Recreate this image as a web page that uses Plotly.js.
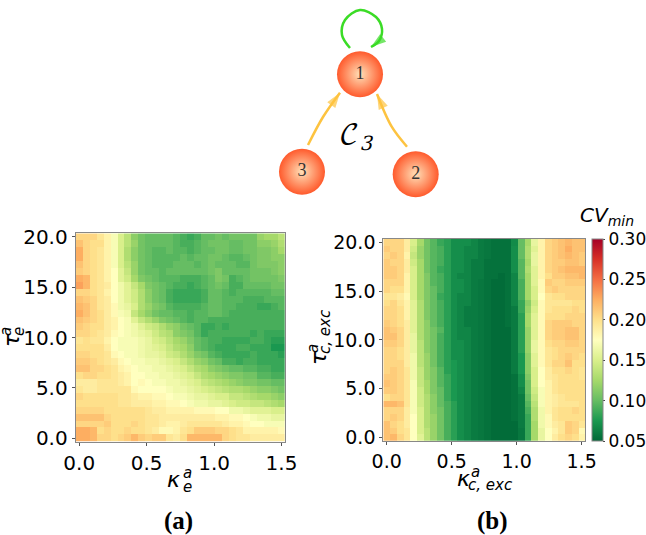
<!DOCTYPE html>
<html>
<head>
<meta charset="utf-8">
<script src="https://cdn.plot.ly/plotly-3.0.1.min.js"></script>
<style>html,body{margin:0;padding:0;background:#fff}</style>
</head>
<body>
<div id="graph" style="width:646px;height:535px"></div>
<script>
// rows go from tau = 20 (top) down to tau = 0, columns from kappa = 0 to 1.5
var cvA = [
[.205,.205,.205,.195,.185,.17,.15,.135,.115,.105,.1,.1,.1,.1,.095,.09,.085,.09,.1,.1,.105,.1,.105,.105,.105,.105,.12,.125,.125,.135],
[.215,.205,.2,.2,.185,.17,.15,.135,.12,.105,.1,.1,.1,.1,.095,.09,.09,.095,.1,.105,.105,.105,.1,.1,.105,.105,.115,.115,.12,.13],
[.225,.205,.2,.195,.185,.17,.15,.13,.115,.105,.1,.095,.095,.1,.095,.095,.09,.095,.1,.1,.105,.105,.1,.1,.105,.105,.11,.11,.115,.125],
[.225,.205,.2,.195,.185,.17,.15,.13,.115,.105,.1,.095,.095,.095,.095,.1,.095,.1,.1,.105,.105,.1,.095,.095,.1,.105,.11,.11,.115,.115],
[.215,.205,.2,.195,.185,.17,.15,.135,.12,.105,.1,.095,.095,.095,.1,.1,.1,.095,.1,.105,.1,.1,.1,.095,.095,.105,.11,.11,.11,.115],
[.21,.205,.2,.195,.185,.175,.155,.14,.12,.105,.1,.1,.095,.1,.1,.1,.1,.1,.1,.105,.11,.1,.1,.1,.1,.105,.105,.105,.11,.115],
[.225,.22,.2,.195,.185,.175,.155,.145,.125,.11,.105,.1,.095,.095,.095,.09,.09,.09,.095,.1,.11,.105,.09,.095,.1,.105,.105,.105,.105,.11],
[.23,.22,.2,.195,.19,.175,.165,.155,.14,.125,.11,.105,.1,.095,.09,.09,.085,.09,.095,.1,.105,.1,.09,.09,.1,.1,.1,.1,.105,.105],
[.205,.205,.2,.195,.185,.175,.165,.155,.145,.13,.115,.105,.1,.09,.085,.085,.085,.085,.09,.1,.1,.095,.09,.095,.095,.095,.095,.095,.1,.1],
[.215,.21,.205,.195,.19,.175,.165,.155,.145,.13,.115,.105,.1,.09,.085,.085,.085,.085,.09,.1,.1,.095,.095,.095,.09,.09,.09,.095,.095,.095],
[.22,.215,.205,.195,.19,.18,.165,.16,.15,.13,.12,.11,.105,.095,.09,.09,.09,.09,.095,.1,.1,.095,.095,.09,.09,.09,.085,.085,.09,.095],
[.225,.215,.205,.2,.19,.18,.17,.165,.14,.125,.115,.105,.1,.1,.095,.095,.09,.095,.095,.1,.1,.095,.09,.09,.09,.09,.09,.09,.09,.09],
[.215,.21,.205,.2,.19,.185,.175,.17,.155,.14,.13,.12,.11,.105,.1,.095,.09,.095,.095,.09,.09,.09,.09,.09,.09,.09,.09,.09,.09,.09],
[.21,.205,.2,.2,.19,.185,.175,.17,.165,.155,.145,.14,.13,.12,.115,.105,.1,.095,.085,.085,.09,.085,.09,.09,.09,.09,.09,.09,.09,.09],
[.205,.205,.2,.195,.19,.18,.175,.17,.165,.16,.155,.145,.135,.13,.115,.11,.105,.095,.085,.09,.09,.09,.09,.09,.09,.085,.09,.085,.085,.085],
[.195,.2,.195,.195,.185,.175,.17,.17,.17,.165,.16,.15,.145,.135,.125,.12,.11,.1,.095,.09,.09,.085,.085,.085,.085,.09,.09,.085,.08,.08],
[.2,.2,.2,.2,.19,.175,.17,.17,.17,.165,.16,.155,.15,.14,.13,.125,.115,.1,.095,.09,.085,.085,.085,.09,.09,.085,.085,.085,.075,.075],
[.205,.205,.2,.2,.195,.18,.175,.17,.17,.165,.16,.16,.155,.145,.14,.13,.12,.11,.105,.095,.09,.085,.085,.085,.085,.09,.085,.085,.085,.08],
[.21,.21,.205,.2,.195,.19,.18,.175,.17,.17,.165,.165,.16,.155,.15,.14,.13,.12,.115,.105,.1,.09,.09,.085,.09,.09,.085,.085,.085,.085],
[.215,.215,.205,.205,.2,.195,.185,.18,.175,.17,.17,.165,.165,.16,.155,.15,.14,.13,.125,.115,.11,.105,.1,.1,.095,.095,.09,.09,.085,.085],
[.2,.205,.205,.2,.2,.195,.19,.185,.175,.175,.17,.17,.165,.165,.16,.155,.15,.14,.13,.125,.12,.115,.11,.11,.105,.105,.095,.095,.09,.09],
[.19,.19,.19,.195,.195,.195,.19,.185,.175,.18,.175,.17,.17,.165,.165,.16,.155,.15,.14,.135,.13,.125,.12,.115,.11,.11,.105,.105,.1,.1],
[.195,.19,.19,.195,.195,.195,.195,.195,.18,.175,.175,.175,.175,.17,.165,.165,.16,.155,.15,.145,.14,.135,.13,.13,.125,.12,.115,.115,.11,.105],
[.205,.2,.2,.2,.2,.2,.195,.195,.19,.185,.185,.18,.18,.175,.17,.17,.165,.16,.16,.155,.15,.15,.14,.14,.135,.13,.125,.125,.12,.115],
[.2,.2,.2,.2,.2,.2,.195,.195,.19,.19,.19,.185,.185,.18,.18,.175,.17,.165,.165,.16,.16,.155,.15,.145,.145,.14,.14,.135,.13,.125],
[.205,.205,.205,.205,.2,.2,.2,.2,.2,.2,.195,.19,.19,.185,.185,.185,.185,.18,.18,.18,.175,.175,.165,.165,.16,.155,.155,.155,.15,.15],
[.215,.215,.215,.215,.205,.2,.2,.2,.2,.2,.195,.195,.19,.19,.19,.19,.19,.19,.19,.19,.185,.185,.18,.18,.175,.17,.165,.165,.16,.16],
[.205,.205,.205,.205,.21,.2,.2,.2,.205,.2,.195,.195,.19,.185,.185,.19,.195,.195,.195,.195,.195,.19,.185,.185,.18,.175,.175,.17,.17,.17],
[.225,.225,.22,.2,.205,.2,.2,.205,.2,.2,.195,.19,.18,.18,.185,.195,.2,.21,.21,.21,.205,.205,.2,.195,.185,.185,.185,.185,.185,.18],
[.225,.225,.22,.205,.205,.2,.205,.21,.22,.21,.205,.21,.21,.195,.19,.2,.22,.22,.22,.22,.22,.205,.2,.195,.195,.19,.19,.19,.19,.19]
];
var cvB = [
[.205,.205,.205,.19,.15,.125,.105,.095,.085,.08,.07,.07,.07,.065,.06,.058,.055,.055,.055,.068,.1,.125,.16,.185,.205,.21,.215,.22,.215,.215],
[.21,.205,.205,.19,.145,.12,.105,.095,.09,.08,.07,.07,.065,.065,.06,.058,.055,.055,.055,.07,.1,.13,.155,.185,.205,.21,.215,.225,.215,.215],
[.205,.21,.205,.185,.14,.12,.105,.095,.09,.08,.07,.07,.065,.065,.06,.058,.055,.055,.055,.07,.1,.13,.16,.185,.205,.21,.215,.22,.215,.21],
[.21,.205,.205,.19,.145,.125,.105,.095,.09,.08,.07,.07,.065,.06,.06,.055,.055,.055,.055,.07,.095,.125,.16,.185,.205,.21,.21,.215,.215,.21],
[.21,.21,.205,.19,.15,.125,.105,.095,.085,.08,.07,.07,.065,.06,.06,.055,.055,.055,.055,.07,.095,.13,.155,.185,.205,.21,.215,.22,.22,.22],
[.21,.21,.205,.185,.15,.125,.11,.095,.09,.08,.07,.065,.065,.06,.06,.055,.055,.052,.055,.065,.095,.125,.155,.185,.2,.21,.21,.215,.215,.22],
[.205,.205,.205,.185,.15,.125,.11,.095,.09,.08,.07,.07,.065,.06,.058,.055,.052,.052,.055,.065,.09,.125,.155,.18,.21,.205,.205,.21,.21,.21],
[.205,.2,.2,.185,.15,.125,.11,.1,.09,.08,.07,.07,.065,.06,.058,.055,.052,.052,.055,.065,.09,.125,.15,.18,.205,.21,.205,.205,.205,.205],
[.195,.195,.19,.18,.15,.125,.11,.1,.085,.08,.07,.065,.065,.06,.058,.055,.052,.052,.055,.065,.09,.125,.15,.175,.195,.2,.2,.205,.205,.205],
[.2,.205,.195,.185,.155,.13,.11,.1,.09,.08,.07,.065,.065,.06,.058,.055,.052,.052,.055,.065,.085,.115,.145,.18,.195,.195,.195,.195,.2,.2],
[.205,.205,.2,.185,.155,.13,.11,.1,.09,.08,.07,.065,.06,.06,.058,.055,.052,.052,.055,.06,.085,.12,.15,.18,.195,.2,.2,.2,.205,.2],
[.205,.205,.2,.185,.155,.13,.11,.1,.09,.08,.07,.065,.06,.06,.058,.055,.052,.052,.055,.06,.08,.125,.155,.18,.2,.2,.2,.205,.205,.205],
[.21,.205,.2,.19,.155,.13,.115,.1,.09,.08,.07,.065,.06,.06,.058,.055,.052,.052,.055,.06,.08,.125,.155,.18,.205,.21,.21,.21,.205,.205],
[.215,.21,.205,.19,.155,.13,.115,.105,.095,.08,.07,.065,.065,.06,.058,.055,.052,.052,.052,.06,.08,.12,.155,.18,.205,.21,.21,.215,.215,.205],
[.215,.215,.205,.19,.16,.13,.115,.105,.09,.08,.07,.065,.065,.06,.058,.055,.052,.052,.052,.06,.08,.12,.155,.18,.205,.21,.21,.215,.215,.205],
[.21,.21,.205,.19,.16,.135,.115,.105,.09,.08,.07,.07,.065,.06,.058,.055,.052,.052,.052,.06,.08,.12,.16,.18,.2,.205,.205,.21,.21,.205],
[.205,.205,.2,.19,.16,.135,.115,.105,.09,.08,.07,.07,.065,.06,.058,.055,.052,.052,.052,.06,.08,.12,.16,.18,.195,.2,.205,.205,.205,.205],
[.205,.205,.2,.19,.165,.135,.12,.105,.09,.08,.07,.07,.065,.06,.058,.055,.052,.052,.052,.06,.075,.115,.155,.18,.195,.2,.205,.21,.205,.2],
[.205,.205,.205,.19,.165,.135,.12,.105,.09,.08,.075,.07,.065,.06,.058,.055,.052,.052,.052,.06,.075,.115,.155,.18,.195,.205,.205,.215,.2,.2],
[.205,.21,.205,.195,.165,.14,.12,.11,.095,.08,.075,.07,.065,.06,.058,.055,.052,.052,.052,.06,.075,.115,.15,.175,.19,.2,.2,.205,.2,.195],
[.21,.21,.205,.195,.165,.14,.12,.11,.095,.085,.075,.07,.065,.06,.058,.055,.052,.052,.052,.055,.07,.11,.15,.175,.19,.195,.2,.2,.2,.195],
[.215,.21,.205,.195,.17,.14,.125,.11,.095,.085,.075,.07,.065,.06,.058,.055,.052,.052,.052,.055,.07,.105,.15,.175,.185,.195,.2,.2,.2,.2],
[.21,.21,.205,.195,.17,.145,.125,.11,.1,.085,.075,.07,.065,.06,.058,.055,.052,.052,.052,.055,.065,.105,.145,.17,.185,.195,.2,.2,.2,.2],
[.2,.205,.205,.195,.17,.145,.13,.115,.1,.085,.075,.07,.065,.06,.058,.055,.052,.052,.052,.055,.06,.1,.14,.17,.185,.19,.195,.2,.2,.2],
[.22,.22,.215,.195,.17,.145,.13,.115,.1,.09,.08,.07,.065,.06,.058,.055,.052,.052,.052,.055,.06,.095,.135,.17,.185,.19,.195,.195,.195,.2],
[.205,.205,.205,.19,.17,.15,.13,.115,.105,.09,.08,.07,.065,.06,.058,.055,.052,.052,.052,.055,.06,.09,.13,.165,.185,.195,.2,.2,.205,.2],
[.205,.21,.205,.19,.175,.15,.13,.12,.105,.09,.08,.07,.065,.06,.058,.055,.052,.052,.052,.055,.06,.085,.13,.165,.18,.195,.2,.2,.2,.2],
[.215,.205,.2,.19,.175,.15,.13,.12,.105,.09,.08,.07,.065,.06,.058,.055,.052,.052,.052,.052,.06,.085,.125,.165,.18,.19,.195,.21,.205,.195],
[.215,.21,.2,.195,.175,.15,.135,.12,.105,.09,.08,.07,.065,.06,.058,.055,.052,.052,.052,.052,.058,.085,.125,.16,.175,.185,.195,.21,.205,.18],
[.215,.22,.205,.195,.175,.155,.135,.12,.105,.09,.08,.07,.065,.06,.058,.055,.052,.052,.052,.052,.058,.085,.125,.16,.175,.19,.2,.205,.2,.185]
];

var rdYlGnReversed = [
  [0, '#006837'], [0.1, '#1a9850'], [0.2, '#66bd63'], [0.3, '#a6d96a'], [0.4, '#d9ef8b'],
  [0.5, '#ffffbf'], [0.6, '#fee08b'], [0.7, '#fdae61'], [0.8, '#f46d43'], [0.9, '#d73027'], [1, '#a50026']
];

var kappaTicks = [0, 0.5, 1, 1.5];
var tauTicks = [0, 5, 10, 15, 20];
var cvTicks = [0.05, 0.10, 0.15, 0.20, 0.25, 0.30];

// network sketch, in page pixels
var nodeX = [360, 302, 415.7];
var nodeY = [74.3, 171.7, 174.3];
var nodeLabels = ['1', '3', '2'];
var edge31X = [308, 323, 340];
var edge31Y = [145, 117, 92.7];
var edge21X = [407, 391.7, 377];
var edge21Y = [146.7, 126.7, 94];
var loopX = [350, 342, 345, 360, 376, 382, 379, 371];
var loopY = [48, 35, 20, 10, 17, 29, 41, 47];

var W = 646, H = 535;

function font(size) {
  return {family: 'DejaVu Sans', size: size, color: '#000'};
}

function heat(z, xa, ya, showScale) {
  return {
    type: 'heatmap', z: z, x0: 0, dx: 1.5 / 29, y0: 20, dy: -20 / 29,
    xaxis: xa, yaxis: ya, colorscale: rdYlGnReversed, zmin: 0.05, zmax: 0.30,
    showscale: showScale, hoverinfo: 'skip',
    colorbar: {
      x: 592 / W, xanchor: 'left', xpad: 0, ypad: 0, thickness: 11,
      y: 1 - 239 / H, yanchor: 'top', len: 201.7 / H,
      tickvals: cvTicks, tickformat: '.2f', ticks: 'outside', ticklen: 2,
      tickfont: font(17), outlinecolor: '#888', outlinewidth: 1
    }
  };
}

function curve(x, y, color, head) {
  var sizes = x.map(function (v, i) { return i == x.length - 1 ? head : 0; });
  return {
    type: 'scatter', mode: 'lines+markers', x: x, y: y, xaxis: 'x3', yaxis: 'y3',
    line: {color: color, width: 2.5, shape: 'spline'},
    marker: {symbol: 'arrow', angleref: 'previous', size: sizes, color: color, line: {width: 0}},
    hoverinfo: 'skip', showlegend: false
  };
}

var traces = [
  heat(cvA, 'x', 'y', false),
  heat(cvB, 'x2', 'y2', true),
  curve(edge31X, edge31Y, '#fdc340', 16),
  curve(edge21X, edge21Y, '#fdc340', 16),
  curve(loopX, loopY, '#3bdc26', 16),
  {
    type: 'scatter', mode: 'markers+text', x: nodeX, y: nodeY, xaxis: 'x3', yaxis: 'y3',
    text: nodeLabels, textposition: 'middle center',
    textfont: {family: 'Liberation Serif', size: 18, color: '#333'},
    marker: {size: 46, color: '#ff5a2c', line: {width: 0}, gradient: {type: 'radial', color: '#ffe0b8'}},
    hoverinfo: 'skip', showlegend: false
  }
];

function label(x, y, text, size, angle, family) {
  return {
    xref: 'x3', yref: 'y3', x: x, y: y, text: text, showarrow: false, textangle: angle || 0,
    xanchor: 'center', yanchor: 'middle',
    font: {family: family || 'DejaVu Sans', size: size, color: '#000'}
  };
}

function axis(domain, range, vals, anchor, size) {
  return {
    domain: domain, range: range, tickvals: vals, tickformat: '.1f', ticks: 'outside', ticklen: 3,
    tickcolor: '#555', tickfont: font(size), showline: true, mirror: true, linecolor: '#888',
    linewidth: 1, showgrid: false, zeroline: false, anchor: anchor
  };
}

var layout = {
  width: W, height: H, margin: {l: 0, r: 0, t: 0, b: 0, autoexpand: false},
  paper_bgcolor: '#fff', plot_bgcolor: 'rgba(0,0,0,0)', showlegend: false,
  xaxis: axis([75.7 / W, 285 / W], [-0.026, 1.526], kappaTicks, 'y', 20),
  yaxis: axis([1 - 441.7 / H, 1 - 233.3 / H], [-0.345, 20.345], tauTicks, 'x', 20),
  xaxis2: axis([383.3 / W, 585 / W], [-0.026, 1.526], kappaTicks, 'y2', 19),
  yaxis2: axis([1 - 440.7 / H, 1 - 239 / H], [-0.345, 20.345], tauTicks, 'x2', 19),
  xaxis3: {domain: [0, 1], range: [0, W], visible: false, fixedrange: true, anchor: 'y3'},
  yaxis3: {domain: [0, 1], range: [H, 0], visible: false, fixedrange: true, anchor: 'x3'},
  annotations: [
    label(356, 138, '𝒞<sub><i>3</i></sub>', 28, 0, 'DejaVu Math TeX Gyre, Liberation Serif'),
    label(607, 216, '<i>CV</i><sub><i>min</i></sub>', 20),
    label(173, 479, '<i>κ</i>', 22),
    label(187, 473, '<i>a</i>', 15),
    label(187, 487, '<i>e</i>', 15),
    label(463, 478, '<i>κ</i>', 22),
    label(475, 472, '<i>a</i>', 15),
    label(490, 485, '<i>c, exc</i>', 15),
    label(11, 340, '<i>τ</i>', 22, -90),
    label(6, 332, '<i>a</i>', 15, -90),
    label(19, 332, '<i>e</i>', 15, -90),
    label(318, 358, '<i>τ</i>', 22, -90),
    label(313, 349, '<i>a</i>', 15, -90),
    label(325, 332, '<i>c, exc</i>', 15, -90),
    label(178, 521, '<b>(a)</b>', 25, 0, 'Liberation Serif'),
    label(492, 521, '<b>(b)</b>', 25, 0, 'Liberation Serif')
  ]
};

Plotly.newPlot('graph', traces, layout, {displayModeBar: false, staticPlot: true});
</script>
</body>
</html>
